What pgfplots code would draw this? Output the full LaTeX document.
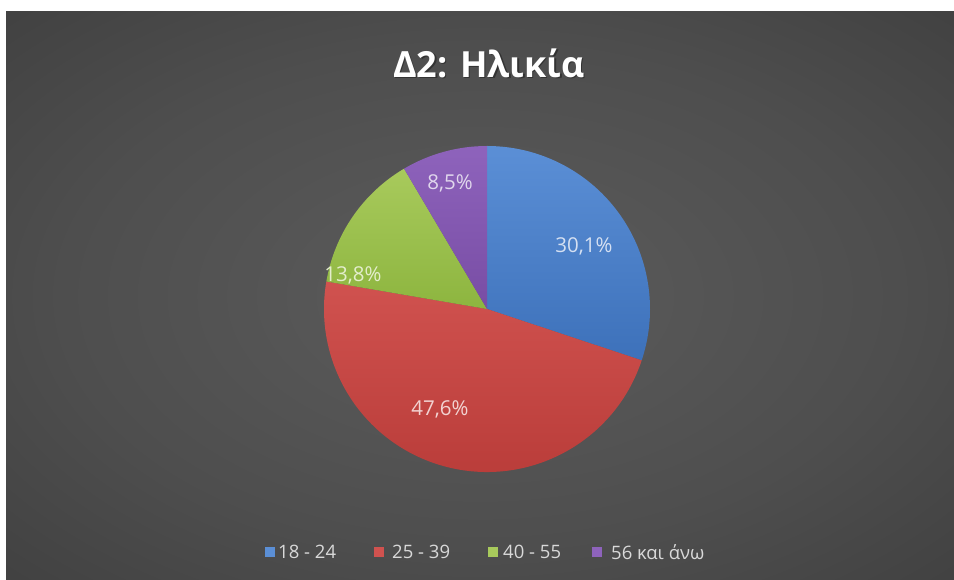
\documentclass[border=0pt]{standalone}
\usepackage{pgfplots}
\pgfplotsset{compat=1.18}
\usepackage{fontspec}
\setmainfont{Open Sans}
\definecolor{bgA}{HTML}{5C5C5C}
\definecolor{bgB}{HTML}{4E4E4E}
\definecolor{bgC}{HTML}{343434}
\definecolor{bgD}{HTML}{202020}
\definecolor{bluT}{HTML}{5B8FD6}\definecolor{bluB}{HTML}{3D71BA}
\definecolor{redT}{HTML}{D0524F}\definecolor{redB}{HTML}{B83B38}
\definecolor{grnT}{HTML}{A8CA5C}\definecolor{grnB}{HTML}{8DB53F}
\definecolor{purT}{HTML}{8E63BC}\definecolor{purB}{HTML}{784DA4}
\definecolor{bluL}{HTML}{D5E0F2}
\definecolor{redL}{HTML}{F2D3D2}
\definecolor{grnL}{HTML}{E3EDCC}
\definecolor{purL}{HTML}{E0D6EC}
\definecolor{legtxt}{HTML}{D9D9D9}
\pgfdeclareradialshading{bgshade}{\pgfpoint{0bp}{0bp}}{color(0bp)=(bgA); color(22bp)=(bgB); color(50bp)=(bgC); color(72bp)=(bgD)}
\begin{document}
\begin{tikzpicture}
% shares (percent)
\pgfmathsetmacro\vA{30.1}
\pgfmathsetmacro\vB{47.6}
\pgfmathsetmacro\vC{13.8}
\pgfmathsetmacro\vD{8.5}
\pgfmathsetmacro\aA{90}
\pgfmathsetmacro\aB{\aA-3.6*\vA}
\pgfmathsetmacro\aC{\aB-3.6*\vB}
\pgfmathsetmacro\aD{\aC-3.6*\vC}
\pgfmathsetmacro\aE{\aD-3.6*\vD}
\begin{axis}[width=954pt,height=580pt,scale only axis,
  xmin=0,xmax=954,ymin=0,ymax=580,hide axis,clip=false]
\fill[white] (axis cs:0,0) rectangle (axis cs:954,580);
\shade[shading=bgshade] (axis cs:6,0) rectangle (axis cs:954,568);
% title
\node[text=black,opacity=0.35,font=\bfseries\fontsize{36}{42}\selectfont] at (axis cs:490.5,515.5) {Δ2: Ηλικία};
\node[text=white,font=\bfseries\fontsize{36}{42}\selectfont] at (axis cs:489,517) {Δ2: Ηλικία};
% pie
\shade[top color=bluT,bottom color=bluB] (axis cs:487,271) -- ++(\aA:163pt) arc[start angle=\aA,end angle=\aB,radius=163pt] -- cycle;
\shade[top color=redT,bottom color=redB] (axis cs:487,271) -- ++(\aB:163pt) arc[start angle=\aB,end angle=\aC,radius=163pt] -- cycle;
\shade[top color=grnT,bottom color=grnB] (axis cs:487,271) -- ++(\aC:163pt) arc[start angle=\aC,end angle=\aD,radius=163pt] -- cycle;
\shade[top color=purT,bottom color=purB] (axis cs:487,271) -- ++(\aD:163pt) arc[start angle=\aD,end angle=\aE,radius=163pt] -- cycle;
% data labels
\node[text=bluL,font=\fontsize{20.5}{24}\selectfont] at (axis cs:584,334) {30,1\%};
\node[text=redL,font=\fontsize{20.5}{24}\selectfont] at (axis cs:440,171) {47,6\%};
\node[text=grnL,font=\fontsize{20.5}{24}\selectfont] at (axis cs:353,305) {13,8\%};
\node[text=purL,font=\fontsize{20.5}{24}\selectfont] at (axis cs:450,397) {8,5\%};
% legend
\fill[bluT] (axis cs:265,23) rectangle (axis cs:275,33);
\node[anchor=west,text=legtxt,inner sep=0pt,font=\fontsize{18.5}{22}\selectfont] at (axis cs:278,28) {18 - 24};
\fill[redT] (axis cs:374,23) rectangle (axis cs:384,33);
\node[anchor=west,text=legtxt,inner sep=0pt,font=\fontsize{18.5}{22}\selectfont] at (axis cs:392,28) {25 - 39};
\fill[grnT] (axis cs:488,23) rectangle (axis cs:498,33);
\node[anchor=west,text=legtxt,inner sep=0pt,font=\fontsize{18.5}{22}\selectfont] at (axis cs:503,28) {40 - 55};
\fill[purT] (axis cs:592,23) rectangle (axis cs:602,33);
\node[anchor=west,text=legtxt,inner sep=0pt,font=\fontsize{18.5}{22}\selectfont] at (axis cs:611,28) {56 και άνω};
\end{axis}
\end{tikzpicture}
\end{document}
